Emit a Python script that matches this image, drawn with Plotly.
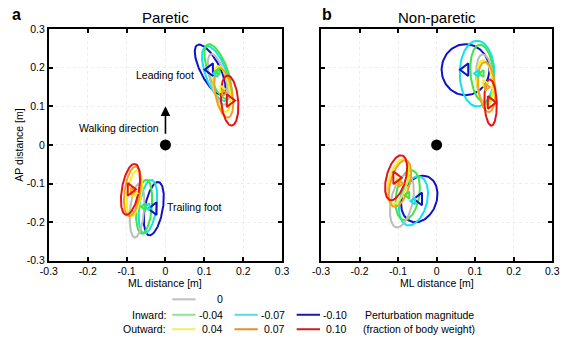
import numpy as np
import plotly.graph_objects as go

W, H = 568, 342

# perturbation magnitudes (fraction of body weight)
magnitudes = ["0", "-0.04", "-0.07", "-0.10", "0.04", "0.07", "0.10"]
colors = ["#bcbcbc", "#3ee63e", "#14e0ee", "#1010c8", "#f2f218", "#f0a020", "#e61414"]
legend_colors = ["#c0c0c0", "#8ee68e", "#5ad8ea", "#1c1ca0", "#f0f060", "#e0902e", "#c42020"]

# ellipse parameters per magnitude: center x, center y, semi-major, semi-minor, angle(deg)
# Panel a (paretic), leading foot
pa_lead_cx = [0.135, 0.135, 0.130, 0.115, 0.145, 0.150, 0.165]
pa_lead_cy = [0.170, 0.190, 0.185, 0.195, 0.145, 0.135, 0.115]
pa_lead_a = [0.068, 0.075, 0.075, 0.072, 0.060, 0.065, 0.065]
pa_lead_b = [0.020, 0.025, 0.027, 0.025, 0.020, 0.022, 0.022]
pa_lead_ang = [105, 110, 110, 117, 100, 100, 95]
# Panel a, trailing foot
pa_trail_cx = [-0.073, -0.055, -0.045, -0.030, -0.080, -0.085, -0.090]
pa_trail_cy = [-0.170, -0.160, -0.160, -0.165, -0.125, -0.120, -0.115]
pa_trail_a = [0.070, 0.070, 0.070, 0.070, 0.060, 0.065, 0.067]
pa_trail_b = [0.018, 0.020, 0.022, 0.023, 0.018, 0.020, 0.022]
pa_trail_ang = [85, 85, 82, 80, 82, 82, 80]
# Panel b (non-paretic), leading foot
pb_lead_cx = [0.125, 0.118, 0.105, 0.075, 0.125, 0.130, 0.140]
pb_lead_cy = [0.170, 0.185, 0.185, 0.195, 0.160, 0.150, 0.110]
pb_lead_a = [0.065, 0.075, 0.085, 0.066, 0.060, 0.065, 0.060]
pb_lead_b = [0.022, 0.030, 0.045, 0.062, 0.020, 0.022, 0.016]
pb_lead_ang = [95, 95, 90, 90, 95, 95, 92]
# Panel b, trailing foot
pb_trail_cx = [-0.090, -0.075, -0.060, -0.045, -0.100, -0.095, -0.105]
pb_trail_cy = [-0.145, -0.130, -0.145, -0.140, -0.095, -0.100, -0.085]
pb_trail_a = [0.070, 0.065, 0.065, 0.062, 0.060, 0.062, 0.060]
pb_trail_b = [0.028, 0.030, 0.035, 0.045, 0.024, 0.025, 0.025]
pb_trail_ang = [78, 80, 75, 70, 75, 75, 75]

tick_vals = [-0.3, -0.2, -0.1, 0, 0.1, 0.2, 0.3]
tick_text = ["-0.3", "-0.2", "-0.1", "0", "0.1", "0.2", "0.3"]

draw_order = [3, 2, 1, 0, 4, 5, 6]
markers = ["triangle-up-open", "triangle-left-open", "triangle-left-open", "triangle-left-open",
           "triangle-right-open", "triangle-right-open", "triangle-right-open"]
marker_sizes = [6, 6, 6, 11, 6, 6, 11]

t = np.linspace(0, 2 * np.pi, 121)


def ellipse(cx, cy, a, b, ang):
    th = np.deg2rad(ang)
    x = cx + a * np.cos(t) * np.cos(th) - b * np.sin(t) * np.sin(th)
    y = cy + a * np.cos(t) * np.sin(th) + b * np.sin(t) * np.cos(th)
    return x, y


fig = go.Figure()

sets = [
    ("x", "y", pa_lead_cx, pa_lead_cy, pa_lead_a, pa_lead_b, pa_lead_ang),
    ("x", "y", pa_trail_cx, pa_trail_cy, pa_trail_a, pa_trail_b, pa_trail_ang),
    ("x2", "y2", pb_lead_cx, pb_lead_cy, pb_lead_a, pb_lead_b, pb_lead_ang),
    ("x2", "y2", pb_trail_cx, pb_trail_cy, pb_trail_a, pb_trail_b, pb_trail_ang),
]
for xa, ya, cxs, cys, aas, bbs, angs in sets:
    for i in draw_order:
        ex, ey = ellipse(cxs[i], cys[i], aas[i], bbs[i], angs[i])
        fig.add_trace(go.Scatter(x=ex, y=ey, mode="lines", xaxis=xa, yaxis=ya,
                                 line=dict(color=colors[i], width=2), showlegend=False,
                                 hoverinfo="skip"))
    for i in draw_order:
        if i == 0:
            continue
        fig.add_trace(go.Scatter(x=[cxs[i]], y=[cys[i]], mode="markers", xaxis=xa, yaxis=ya,
                                 marker=dict(symbol=markers[i], size=marker_sizes[i],
                                             color=colors[i], line=dict(width=2, color=colors[i])),
                                 showlegend=False, hoverinfo="skip"))

# body centre dots
for xa, ya in [("x", "y"), ("x2", "y2")]:
    fig.add_trace(go.Scatter(x=[0], y=[0], mode="markers", xaxis=xa, yaxis=ya,
                             marker=dict(size=11, color="black"), showlegend=False,
                             hoverinfo="skip"))

FONT = "Liberation Sans, Arial, sans-serif"


def py2p(py):
    return 1 - py / H


def px2p(px):
    return px / W


ydom = [py2p(264), py2p(24)]
axis_common = dict(range=[-0.3, 0.3], tickvals=tick_vals, ticktext=tick_text,
                   ticks="inside", ticklen=4, tickwidth=1.5, tickcolor="black",
                   showline=True, linewidth=2, linecolor="black", mirror="ticks",
                   showgrid=True, gridcolor="#ededed", griddash="dot", gridwidth=1,
                   zeroline=False, tickfont=dict(size=10.5, color="black", family=FONT))

fig.update_layout(
    width=W, height=H, margin=dict(l=0, r=0, t=0, b=0),
    paper_bgcolor="white", plot_bgcolor="white",
    font=dict(family=FONT, color="black"),
    xaxis=dict(domain=[px2p(41), px2p(281)], anchor="y", **axis_common),
    yaxis=dict(domain=ydom, anchor="x", **axis_common),
    xaxis2=dict(domain=[px2p(321), px2p(559)], anchor="y2", **axis_common),
    yaxis2=dict(domain=ydom, anchor="x2", showticklabels=False,
                **{k: v for k, v in axis_common.items() if k != "tickfont"}),
)


def pann(x, y, text, size, xanchor="center", **kw):
    return dict(x=px2p(x), y=py2p(y), text=text, showarrow=False, xanchor=xanchor,
                yanchor="middle", font=dict(size=size), xref="paper", yref="paper", **kw)


ann = []
# titles and panel letters
ann.append(pann(161, 12, "Paretic", 15))
ann.append(pann(440, 12, "Non-paretic", 15))
ann.append(pann(1, 9, "<b>a</b>", 16, xanchor="left"))
ann.append(pann(320, 9, "<b>b</b>", 16, xanchor="left"))
# axis titles
ann.append(pann(161, 287, "ML distance [m]", 10.5))
ann.append(pann(440, 287, "ML distance [m]", 10.5))
ann.append(pann(10, 144, "AP distance [m]", 10.5, textangle=-90))
# in-plot labels
ann.append(dict(x=0.078, y=0.18, xref="x", yref="y", text="Leading foot", showarrow=False,
                xanchor="right", yanchor="middle", font=dict(size=10.5)))
ann.append(dict(x=0.0, y=-0.16, xref="x", yref="y", text="Trailing foot", showarrow=False,
                xanchor="left", yanchor="middle", font=dict(size=10.5)))
ann.append(dict(x=-0.012, y=0.045, xref="x", yref="y", text="Walking direction", showarrow=False,
                xanchor="right", yanchor="middle", font=dict(size=10.5)))
# walking direction arrow
ann.append(dict(x=0, y=0.1, ax=0, ay=0.025, xref="x", yref="y", axref="x", ayref="y",
                text="", showarrow=True, arrowhead=2, arrowsize=1.2, arrowwidth=1.6,
                arrowcolor="black"))

# legend (custom)
shapes = []
row_y = [304, 320, 335]
leg_items = [(0, 0, 168), (1, 1, 168), (2, 1, 232), (3, 1, 296),
             (4, 2, 168), (5, 2, 232), (6, 2, 296)]
for idx, row, x0 in leg_items:
    shapes.append(dict(type="line", xref="paper", yref="paper",
                       x0=px2p(x0), x1=px2p(x0 + 24), y0=py2p(row_y[row]), y1=py2p(row_y[row]),
                       line=dict(color=legend_colors[idx], width=2)))
    ann.append(pann(x0 + 54, row_y[row], magnitudes[idx], 10.5, xanchor="right"))
ann.append(pann(164, row_y[1], "Inward:", 10.5, xanchor="right"))
ann.append(pann(164, row_y[2], "Outward:", 10.5, xanchor="right"))
ann.append(pann(422, row_y[1], "Perturbation magnitude", 10.5))
ann.append(pann(422, row_y[2], "(fraction of body weight)", 10.5))

fig.update_layout(annotations=ann, shapes=shapes)
fig.write_html("out.html", config={"displayModeBar": False},
               post_script="document.body.style.margin='0px';")
